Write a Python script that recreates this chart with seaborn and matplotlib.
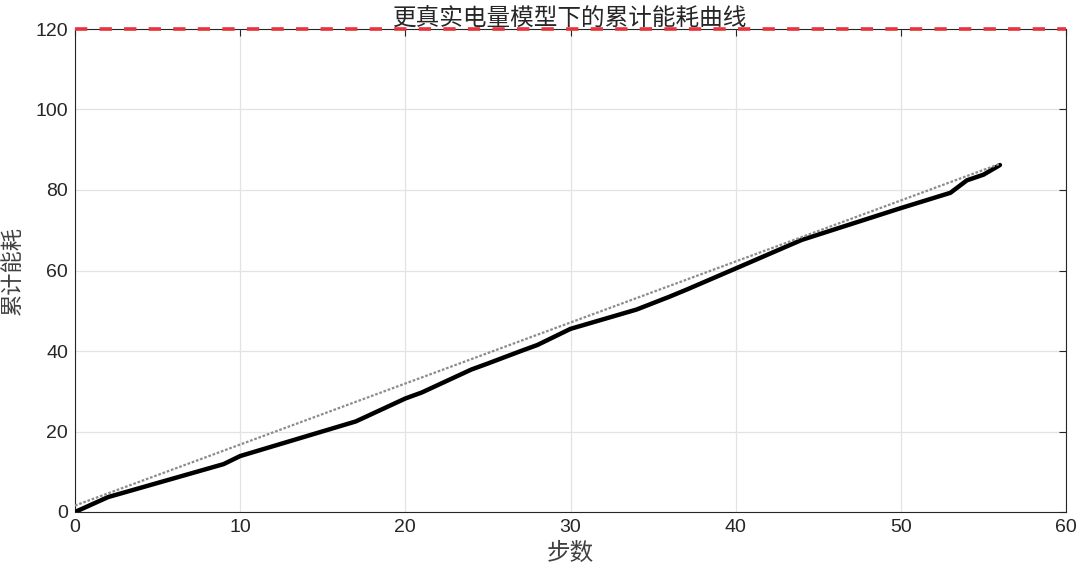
import numpy as np
import pandas as pd
import matplotlib
matplotlib.use("Agg")
import matplotlib.pyplot as plt
import seaborn as sns

# ---- data ----
steps = [0, 2, 9, 10, 17, 20, 21, 24, 25, 27, 28, 30, 34, 36, 37, 40, 44, 50, 53, 54, 55, 56]
energy = [0.0, 3.7, 11.9, 13.9, 22.5, 28.2, 29.7, 35.4, 36.9, 40.0, 41.5, 45.5, 50.3, 53.5,
          55.2, 60.5, 67.6, 75.5, 79.3, 82.4, 83.8, 86.2]
fit_x = [0, 56]
fit_y = [1.6, 86.5]
limit_value = 120
xticks = [0, 10, 20, 30, 40, 50, 60]
yticks = [0, 20, 40, 60, 80, 100, 120]
title = "更真实电量模型下的累计能耗曲线"
xlabel = "步数"
ylabel = "累计能耗"

sns.set_theme(style="white")
plt.rcParams['font.family'] = ['Liberation Sans', 'Noto Sans CJK SC', 'DejaVu Sans']
cjk = ['Noto Sans CJK SC', 'DejaVu Sans']

fig = plt.figure(figsize=(10.8, 5.77), dpi=100)
ax = fig.add_axes([75/1080, 65/577, (1066-75)/1080, (512-29)/577])

df = pd.DataFrame({"step": steps, "energy": energy})
fit_df = pd.DataFrame({"step": fit_x, "energy": fit_y})

ax.grid(True, color="#e3e3e3", linewidth=0.9)
ax.set_axisbelow(True)

sns.lineplot(data=df, x="step", y="energy", ax=ax, color="black", linewidth=3.2,
             estimator=None, sort=False, zorder=3)
sns.lineplot(data=fit_df, x="step", y="energy", ax=ax, color="#8c8c8c", linewidth=1.6,
             estimator=None, linestyle=(0, (1.2, 0.8)), zorder=4)
ax.axhline(limit_value, color="#E8333C", linewidth=2.6, linestyle=(0, (3.4, 3.4)),
           zorder=5, clip_on=False)

ax.set_xlim(0, 60)
ax.set_ylim(0, 120)
ax.set_xticks(xticks)
ax.set_yticks(yticks)
ax.tick_params(direction="in", length=5, width=0.8, colors="#262626", labelsize=14,
               top=True, right=True, labeltop=False, labelright=False, pad=5)
for s in ax.spines.values():
    s.set_color("#262626")
    s.set_linewidth(0.8)

ax.set_title(title, fontsize=17, family=cjk, color="#262626", pad=3)
ax.set_xlabel(xlabel, fontsize=17, family=cjk, color="#404040", labelpad=4)
ax.set_ylabel(ylabel, fontsize=16, family=cjk, color="#404040", labelpad=8)

fig.savefig("out.png", dpi=100)
